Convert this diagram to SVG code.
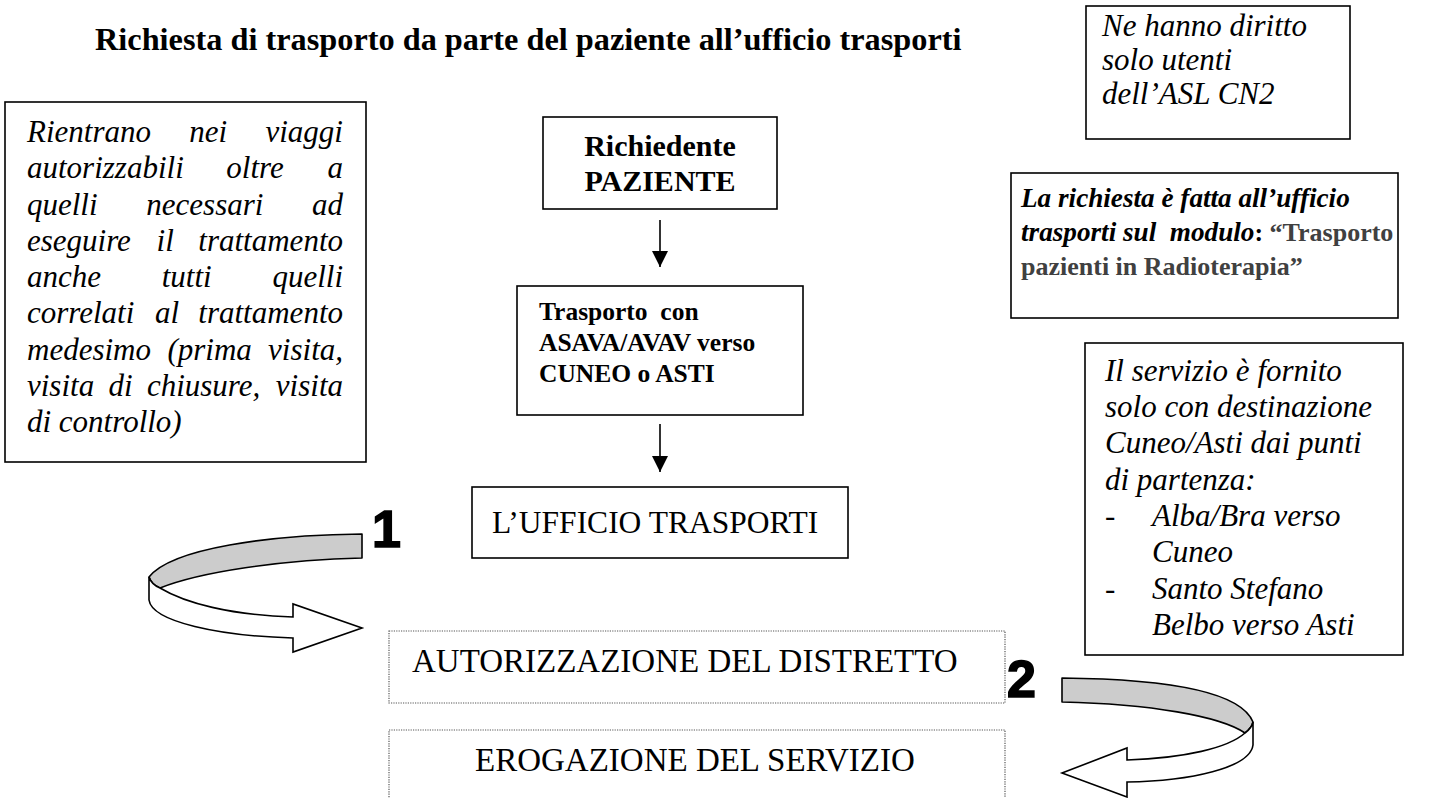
<svg xmlns="http://www.w3.org/2000/svg" width="1429" height="798" viewBox="0 0 1429 798">
<style>
  .box { fill: #ffffff; stroke: #000000; stroke-width: 1.6; }
  .dot { fill: #ffffff; stroke: #555555; stroke-width: 1.2; stroke-dasharray: 1.2 1.2; }
  .serif { font-family: "Liberation Serif", "Times New Roman", serif; fill: #000000; }
  .it { font-style: italic; font-size: 31px; }
  .bi { font-style: italic; font-weight: bold; font-size: 27.2px; }
  .bu { font-style: normal; font-weight: bold; font-size: 26px; }
  .gray { fill: #404040; }
  .num { font-family: "Liberation Sans", Arial, sans-serif; font-weight: bold; font-size: 52px; fill: #000; stroke: #000; stroke-width: 1.6; }
  .conn { stroke: #000000; stroke-width: 1.6; fill: none; }
  .band { fill: #cccccc; stroke: #000000; stroke-width: 1.6; stroke-linejoin: round; }
  .wband { fill: #ffffff; stroke: #000000; stroke-width: 1.6; stroke-linejoin: miter; }
</style>
<defs>
  <marker id="ah" markerUnits="userSpaceOnUse" markerWidth="16" markerHeight="16" viewBox="0 0 16 16" refX="16" refY="8" orient="auto">
    <path d="M0,0 L16,8 L0,16 Z" fill="#000000"/>
  </marker>
</defs>
<rect width="1429" height="798" fill="#ffffff"/>

<g id="title">
  <text class="serif" x="95" y="50" font-size="32.3" font-weight="bold">Richiesta di trasporto da parte del paziente all’ufficio trasporti</text>
</g>

<g id="note-diritto">
  <rect class="box" x="1086" y="6" width="264" height="133"/>
  <text class="serif it" x="1102" y="36">Ne hanno diritto</text>
  <text class="serif it" x="1102" y="70">solo utenti</text>
  <text class="serif it" x="1102" y="104">dell’ASL CN2</text>
</g>

<g id="note-viaggi">
  <rect class="box" x="5" y="102" width="361" height="360"/>
  <text class="serif it" y="142"><tspan x="27">Rientrano</tspan><tspan x="189.3">nei</tspan><tspan x="343" text-anchor="end">viaggi</tspan></text>
  <text class="serif it" y="178.3"><tspan x="27">autorizzabili</tspan><tspan x="226.3">oltre</tspan><tspan x="343" text-anchor="end">a</tspan></text>
  <text class="serif it" y="214.5"><tspan x="27">quelli</tspan><tspan x="146.3">necessari</tspan><tspan x="343" text-anchor="end">ad</tspan></text>
  <text class="serif it" y="250.8"><tspan x="27">eseguire</tspan><tspan x="156.6">il</tspan><tspan x="343" text-anchor="end">trattamento</tspan></text>
  <text class="serif it" y="287"><tspan x="27">anche</tspan><tspan x="161.7">tutti</tspan><tspan x="343" text-anchor="end">quelli</tspan></text>
  <text class="serif it" y="323.3"><tspan x="27">correlati</tspan><tspan x="154.9">al</tspan><tspan x="343" text-anchor="end">trattamento</tspan></text>
  <text class="serif it" y="359.5"><tspan x="27">medesimo</tspan><tspan x="167.4">(prima</tspan><tspan x="343" text-anchor="end">visita,</tspan></text>
  <text class="serif it" y="395.8"><tspan x="27">visita</tspan><tspan x="108.5">di</tspan><tspan x="146.9">chiusure,</tspan><tspan x="343" text-anchor="end">visita</tspan></text>
  <text class="serif it" x="27" y="432">di controllo)</text>
</g>

<g id="node-richiedente">
  <rect class="box" x="543" y="117" width="234" height="92"/>
  <text class="serif" x="660" y="156" font-size="30" font-weight="bold" text-anchor="middle">Richiedente</text>
  <text class="serif" x="660" y="191" font-size="30" font-weight="bold" text-anchor="middle">PAZIENTE</text>
</g>

<g id="note-richiesta">
  <rect class="box" x="1011" y="173" width="387" height="145"/>
  <text class="serif bi" x="1021" y="207">La richiesta è fatta all’ufficio</text>
  <text class="serif bi" x="1021" y="241" xml:space="preserve">trasporti sul  modulo<tspan class="bu">: </tspan><tspan class="bu gray">“Trasporto</tspan></text>
  <text class="serif bu gray" x="1021" y="275">pazienti in Radioterapia”</text>
</g>

<g id="node-trasporto">
  <rect class="box" x="517" y="286" width="286" height="129"/>
  <text class="serif" x="539" y="320" font-size="25.5" font-weight="bold" xml:space="preserve">Trasporto  con</text>
  <text class="serif" x="539" y="351" font-size="25.5" font-weight="bold">ASAVA/AVAV verso</text>
  <text class="serif" x="539" y="382" font-size="25.5" font-weight="bold">CUNEO o ASTI</text>
</g>

<g id="note-servizio">
  <rect class="box" x="1085" y="343" width="318" height="312"/>
  <text class="serif it" x="1105" y="381">Il servizio è fornito</text>
  <text class="serif it" x="1105" y="417">solo con destinazione</text>
  <text class="serif it" x="1105" y="453">Cuneo/Asti dai punti</text>
  <text class="serif it" x="1105" y="490">di partenza:</text>
  <text class="serif it" y="526"><tspan x="1105" font-style="normal">-</tspan><tspan x="1152">Alba/Bra verso</tspan></text>
  <text class="serif it" x="1152" y="562">Cuneo</text>
  <text class="serif it" y="599"><tspan x="1105" font-style="normal">-</tspan><tspan x="1152">Santo Stefano</tspan></text>
  <text class="serif it" x="1152" y="635">Belbo verso Asti</text>
</g>

<g id="node-ufficio">
  <rect class="box" x="472" y="487" width="376" height="71"/>
  <text class="serif" x="492" y="533" font-size="31.5">L’UFFICIO TRASPORTI</text>
</g>

<g id="label-1">
  <text class="num" x="372" y="547">1</text>
</g>

<g id="label-2">
  <text class="num" x="1007" y="697">2</text>
</g>

<g id="node-autorizzazione">
  <rect class="dot" x="389" y="631" width="616" height="72"/>
  <text class="serif" x="412" y="672" font-size="33">AUTORIZZAZIONE DEL DISTRETTO</text>
</g>

<g id="node-erogazione">
  <rect class="dot" x="389" y="730" width="616" height="80"/>
  <text class="serif" x="475" y="771" font-size="33">EROGAZIONE DEL SERVIZIO</text>
</g>

<g id="connectors">
  <line class="conn" x1="660" y1="220" x2="660" y2="267" marker-end="url(#ah)"/>
  <line class="conn" x1="660" y1="424" x2="660" y2="472" marker-end="url(#ah)"/>
  <g id="curved-arrow-1">
    <path class="band" d="M362,534 C270,535 172,548 149,577 C151,583 155,586 160,588 C200,572 280,560 362,558 Z"/>
    <path class="wband" d="M149,577 L149,600 C152,622 220,636 293,638 L293,652 L362,628 L293,604 L293,617 C230,615 185,603 160,588 C155,586 151,583 149,577 Z"/>
  </g>
  <g id="curved-arrow-2">
    <path class="band" d="M1062,678 C1160,679 1240,690 1253,722 C1252,727 1249,730 1245,733 C1220,716 1150,704 1062,702 Z"/>
    <path class="wband" d="M1253,722 L1253,745 C1250,768 1190,781 1127,782 L1127,797 L1062,773 L1127,748 L1127,760 C1185,758 1228,748 1245,733 C1249,730 1252,727 1253,722 Z"/>
  </g>
</g>
</svg>
